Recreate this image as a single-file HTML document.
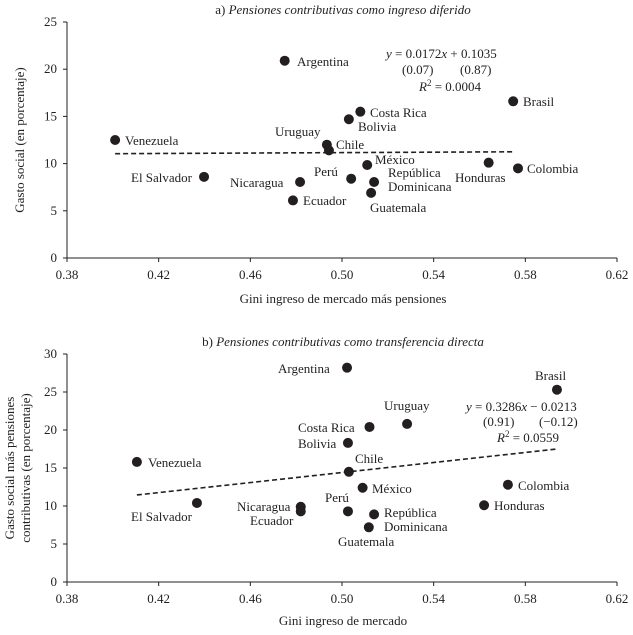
<!DOCTYPE html>
<html><head><meta charset="utf-8"><style>
body{margin:0;background:#fff}
svg{font-family:"Liberation Serif",serif;fill:#231f20}
text{font-size:13px}
</style></head><body>
<svg id="c" width="633" height="630" xmlns="http://www.w3.org/2000/svg"></svg>
<script>
const xTicks=[0.38,0.42,0.46,0.50,0.54,0.58,0.62];
const yTicksA=[0,5,10,15,20,25];
const yTicksB=[0,5,10,15,20,25,30];
const countries=["Argentina","Venezuela","El Salvador","Uruguay","Chile","Bolivia","Costa Rica","México","Perú","República Dominicana","Guatemala","Nicaragua","Ecuador","Honduras","Colombia","Brasil"];
const xA=[0.475,0.401,0.4398,0.4934,0.4943,0.503,0.508,0.511,0.504,0.514,0.5127,0.4817,0.4786,0.564,0.5768,0.5747];
const yA=[20.9,12.5,8.6,12.0,11.4,14.7,15.5,9.85,8.4,8.05,6.9,8.05,6.1,10.1,9.5,16.6];
const xB=[0.5022,0.4105,0.4367,0.5284,0.503,0.5026,0.512,0.509,0.5026,0.514,0.5117,0.482,0.482,0.562,0.5724,0.5938];
const yB=[28.2,15.8,10.4,20.8,14.5,18.3,20.4,12.4,9.3,8.9,7.2,9.9,9.3,10.1,12.8,25.3];
const trendAx=[0.401,0.5747];const trendAy=[11.05,11.25];
const trendBx=[0.4105,0.5938];const trendBy=[11.45,17.5];
const NS="http://www.w3.org/2000/svg",svg=document.getElementById('c');
function el(t,a,txt){const e=document.createElementNS(NS,t);for(const k in a)e.setAttribute(k,a[k]);if(txt!==undefined)e.textContent=txt;svg.appendChild(e);return e;}
function panel(p){
 const sx=v=>67+(v-0.38)/0.24*550, sy=v=>p.y0-(v/p.ymax)*(p.y0-p.y1);
 let e=el('line',{x1:67,y1:p.y1,x2:67,y2:p.y0,stroke:'#231f20'});
 e=el('line',{x1:67,y1:p.y0,x2:617,y2:p.y0,stroke:'#231f20'});
 xTicks.forEach(t=>{el('line',{x1:sx(t),x2:sx(t),y1:p.y0,y2:p.y0+4,stroke:'#231f20'});
  e=el('text',{x:sx(t),y:p.y0+21,'text-anchor':'middle'},t.toFixed(2));});
 p.yt.forEach(t=>{el('line',{x1:63,x2:67,y1:sy(t),y2:sy(t),stroke:'#231f20'});
  e=el('text',{x:57,y:sy(t)+4,'text-anchor':'end'},t);});
 e=el('line',{x1:sx(p.tx[0]),y1:sy(p.ty[0]),x2:sx(p.tx[1]),y2:sy(p.ty[1]),stroke:'#231f20','stroke-width':1.6,'stroke-dasharray':'5,3'});
 
 p.xs.forEach((x,i)=>{e=el('circle',{cx:sx(x),cy:sy(p.ys[i]),r:5,fill:'#231f20'});
  });
 p.labels.forEach(l=>{e=el('text',{x:l[1],y:l[2],'text-anchor':l[3]||'start'},l[0]);});
}
panel({id:'a',y0:258,y1:22,ymax:25,yt:yTicksA,xs:xA,ys:yA,tx:trendAx,ty:trendAy,labels:[
 ["Argentina",297,66],["Venezuela",125,145],["El Salvador",131,182],["Uruguay",275,136],["Chile",336,149],["Bolivia",358,131],["Costa Rica",370,117],["México",375,164],["Perú",314,176],["República",388,177],["Dominicana",388,191],["Guatemala",370,212],["Nicaragua",230,187],["Ecuador",303,205],["Honduras",455,182],["Colombia",527,173],["Brasil",523,106]]});
panel({id:'b',y0:582,y1:354,ymax:30,yt:yTicksB,xs:xB,ys:yB,tx:trendBx,ty:trendBy,labels:[
 ["Argentina",278,373],["Venezuela",148,467],["El Salvador",131,521],["Uruguay",384,410],["Chile",355,463],["Bolivia",298,448],["Costa Rica",298,432],["México",372,493],["Perú",325,502],["República",384,517],["Dominicana",384,531],["Guatemala",338,546],["Nicaragua",237,511],["Ecuador",250,525],["Honduras",494,510],["Colombia",518,490],["Brasil",535,380]]});
function t(x,y,s,name,extra){const e=el('text',Object.assign({x:x,y:y},extra||{}));e.innerHTML=s;return e;}
t(343,14,'a) <tspan font-style="italic">Pensiones contributivas como ingreso diferido</tspan>','title-a',{'text-anchor':'middle','font-size':15});
t(343,346,'b) <tspan font-style="italic">Pensiones contributivas como transferencia directa</tspan>','title-b',{'text-anchor':'middle','font-size':15});
t(343,303,'Gini ingreso de mercado más pensiones','x-axis-title-a',{'text-anchor':'middle','font-size':14});
t(343,625,'Gini ingreso de mercado','x-axis-title-b',{'text-anchor':'middle','font-size':14});
t(0,0,'Gasto social (en porcentaje)','y-axis-title-a',{'text-anchor':'middle',transform:'translate(24,140) rotate(-90)'});
t(0,0,'Gasto social más pensiones','y-axis-title-b1',{'text-anchor':'middle',transform:'translate(14,468) rotate(-90)'});
t(0,0,'contributivas (en porcentaje)','y-axis-title-b2',{'text-anchor':'middle',transform:'translate(30,468) rotate(-90)'});
t(386,58,'<tspan font-style="italic">y</tspan> = 0.0172<tspan font-style="italic">x</tspan> + 0.1035','equation-a');
t(402,74,'(0.07)','se-a1');t(460,74,'(0.87)','se-a2');
t(419,91,'<tspan font-style="italic">R</tspan><tspan dy="-5" font-size="9">2</tspan><tspan dy="5"> = 0.0004</tspan>','r2-a');
t(466,411,'<tspan font-style="italic">y</tspan> = 0.3286<tspan font-style="italic">x</tspan> − 0.0213','equation-b');
t(483,426,'(0.91)','se-b1');t(539,426,'(−0.12)','se-b2');
t(497,442,'<tspan font-style="italic">R</tspan><tspan dy="-5" font-size="9">2</tspan><tspan dy="5"> = 0.0559</tspan>','r2-b');
</script>
</body></html>
